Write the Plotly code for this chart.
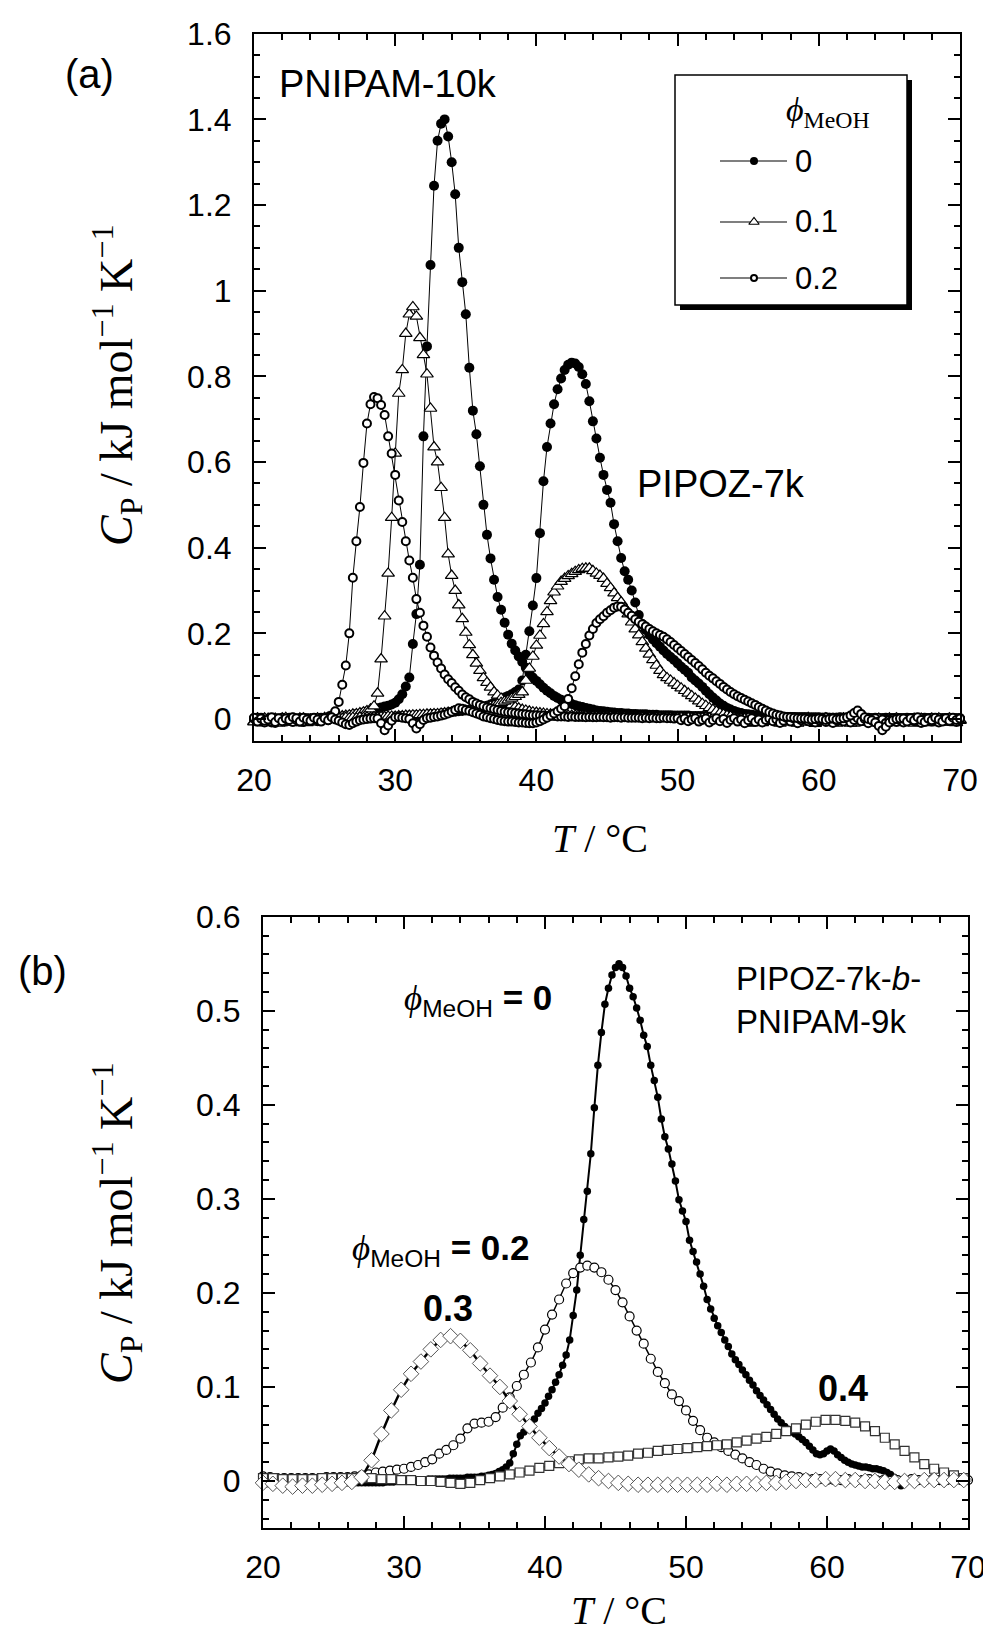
import numpy as np
import plotly.graph_objects as go

W, H = 991, 1631
OFF = 8  # the html body margin shifts the figure by 8 px; positions below are page px

# ------------------------------------------------------------------
# Panel (a): Cp / kJ mol^-1 K^-1,
# sampled every 0.25 degC starting at 20 degC (one row = 1 degC)
# ------------------------------------------------------------------
A_T0, A_DT = 20.0, 0.25

pnipam10k_phi0 = [
    -0.002, 0.003, -0.006, 0.001,
    -0.004, -0.008, 0.002, -0.003,
    0.001, -0.006, -0.002, 0.003,
    -0.005, 0.001, -0.007, -0.001,
    0.002, -0.003, 0.001, 0.003,
    0.002, 0.004, 0.003, 0.005,
    0.005, 0.006, 0.007, 0.008,
    0.010, 0.012, 0.013, 0.015,
    0.018, 0.020, 0.022, 0.025,
    0.027, 0.029, 0.031, 0.034,
    0.038, 0.046, 0.058, 0.076,
    0.097, 0.175, 0.245, 0.360,
    0.660, 0.870, 1.060, 1.245,
    1.350, 1.390, 1.400, 1.360,
    1.300, 1.225, 1.100, 1.020,
    0.945, 0.820, 0.720, 0.665,
    0.590, 0.500, 0.430, 0.375,
    0.325, 0.285, 0.255, 0.225,
    0.197, 0.176, 0.160, 0.146,
    0.133, 0.120, 0.108, 0.097,
    0.089, 0.081, 0.073, 0.066,
    0.060, 0.054, 0.049, 0.045,
    0.041, 0.038, 0.035, 0.032,
    0.030, 0.028, 0.026, 0.024,
    0.022, 0.020, 0.019, 0.018,
    0.017, 0.016, 0.015, 0.014,
    0.014, 0.013, 0.013, 0.012,
    0.012, 0.011, 0.011, 0.011,
    0.010, 0.010, 0.010, 0.009,
    0.009, 0.009, 0.009, 0.008,
    0.008, 0.008, 0.008, 0.008,
    0.007, 0.007, 0.007, 0.007,
    0.007, 0.007, 0.006, 0.006,
    0.006, 0.006, 0.006, 0.006,
    0.006, 0.005, 0.005, 0.005,
    0.005, 0.005, 0.005, 0.005,
    0.005, 0.005, 0.004, 0.004,
    0.004, 0.004, 0.004, 0.004,
    0.004, 0.004, 0.004, 0.004,
    0.004, 0.003, 0.003, 0.003,
    0.003, 0.003, 0.003, 0.003,
    0.003, 0.003, 0.003, 0.003,
    0.003, 0.003, 0.003, 0.003,
    0.003, 0.003, 0.003, 0.002,
    0.002, 0.002, 0.002, 0.002,
    0.002, 0.002, 0.002, 0.002,
    0.002, 0.002, 0.002, 0.002,
    0.002, 0.002, 0.002, 0.002,
    0.002, 0.002, 0.002, 0.002,
    0.002, 0.002, 0.002, 0.002,
    0.002,
]

pnipam10k_phi01 = [
    -0.006, 0.002, -0.009, -0.002,
    0.001, -0.007, -0.003, -0.010,
    -0.004, 0.003, -0.008, -0.001,
    -0.009, -0.003, 0.002, -0.006,
    -0.002, -0.007, 0.001, -0.003,
    0.003, 0.004, 0.004, 0.005,
    0.006, 0.007, 0.008, 0.009,
    0.011, 0.012, 0.014, 0.016,
    0.019, 0.023, 0.030, 0.060,
    0.140, 0.240, 0.340, 0.470,
    0.620, 0.760, 0.815, 0.900,
    0.945, 0.962, 0.940, 0.890,
    0.850, 0.805, 0.725, 0.635,
    0.600, 0.540, 0.470, 0.385,
    0.335, 0.300, 0.266, 0.234,
    0.202, 0.173, 0.150, 0.130,
    0.113, 0.096, 0.085, 0.074,
    0.063, 0.055, 0.048, 0.041,
    0.036, 0.032, 0.028, 0.025,
    0.022, 0.020, 0.018, 0.016,
    0.015, 0.014, 0.013, 0.012,
    0.011, 0.010, 0.010, 0.009,
    0.009, 0.008, 0.008, 0.008,
    0.007, 0.007, 0.007, 0.006,
    0.006, 0.006, 0.006, 0.005,
    0.005, 0.005, 0.004, 0.005,
    0.004, 0.005, 0.004, 0.004,
    0.004, 0.003, 0.004, 0.004,
    0.003, 0.004, 0.003, 0.003,
    0.004, 0.003, 0.003, 0.002,
    0.003, 0.003, 0.002, 0.003,
    0.002, 0.003, 0.002, 0.002,
    0.003, 0.002, 0.002, 0.001,
    0.002, 0.002, 0.001, 0.002,
    0.001, 0.002, 0.001, 0.001,
    0.002, -0.003, -0.007, -0.002,
    -0.009, -0.004, 0.001, -0.006,
    -0.002, -0.010, -0.005, 0.002,
    -0.007, -0.003, -0.009, -0.001,
    -0.005, 0.003, -0.008, -0.011,
    -0.003, -0.006, 0.001, -0.008,
    -0.001, -0.010, -0.004, 0.002,
    -0.007, -0.002, -0.010, -0.004,
    0.001, -0.006, -0.008, -0.002,
    -0.005, -0.010, -0.002, -0.007,
    0.002, -0.005, -0.009, -0.003,
    -0.008, -0.001, -0.006, -0.010,
    -0.004, 0.001, -0.007, -0.002,
    -0.009, -0.004, 0.002, -0.008,
    -0.003, -0.008, -0.001, -0.005,
    -0.004,
]

pnipam10k_phi02 = [
    0.001, -0.005, 0.003, -0.008,
    -0.003, 0.002, -0.009, -0.002,
    0.003, -0.004, -0.001, -0.007,
    -0.002, 0.002, -0.006, 0.001,
    -0.004, 0.001, -0.002, 0.002,
    0.002, 0.004, 0.008, 0.018,
    0.040, 0.080, 0.125, 0.200,
    0.330, 0.415, 0.495, 0.598,
    0.690, 0.735, 0.752, 0.749,
    0.733, 0.710, 0.660, 0.620,
    0.570, 0.510, 0.460, 0.415,
    0.370, 0.330, 0.280, 0.248,
    0.218, 0.192, 0.167, 0.148,
    0.132, 0.118, 0.104, 0.093,
    0.084, 0.074, 0.066, 0.057,
    0.051, 0.046, 0.040, 0.036,
    0.033, 0.030, 0.027, 0.025,
    0.023, 0.021, 0.019, 0.017,
    0.016, 0.015, 0.014, 0.013,
    0.012, 0.011, 0.010, 0.009,
    0.009, 0.008, 0.008, 0.007,
    0.007, 0.007, 0.006, 0.006,
    0.006, 0.005, 0.006, 0.005,
    0.005, 0.005, 0.004, 0.005,
    0.004, 0.004, 0.005, 0.004,
    0.004, 0.003, 0.004, 0.004,
    0.003, 0.004, 0.003, 0.003,
    0.003, 0.003, 0.002, 0.003,
    0.002, 0.003, 0.002, 0.002,
    0.003, 0.002, 0.002, 0.001,
    0.002, -0.003, 0.001, -0.005,
    -0.001, 0.002, -0.006, -0.002,
    0.001, -0.008, -0.003, 0.002,
    -0.005, 0.000, -0.009, -0.002,
    0.002, -0.006, -0.001, -0.010,
    -0.003, 0.002, -0.007, -0.001,
    -0.008, -0.002, 0.001, -0.005,
    -0.001, -0.009, -0.004, 0.002,
    -0.006, 0.001, -0.010, -0.003,
    0.002, -0.005, -0.002, -0.008,
    -0.003, 0.002, -0.007, 0.000,
    -0.009, -0.003, 0.001, -0.006,
    0.001, -0.008, -0.002, 0.002,
    -0.005, 0.000, -0.010, -0.003,
    0.002, -0.006, -0.001, -0.009,
    -0.002, 0.001, -0.007, -0.003,
    -0.008, -0.002, 0.002, -0.005,
    0.000, -0.009, -0.003, 0.001,
    -0.006, 0.002, -0.008, -0.002,
    0.001, -0.005, -0.001, -0.007,
    -0.003,
]

pipoz7k_phi0 = [
    0.002, -0.004, 0.001, -0.006,
    -0.003, 0.002, -0.007, 0.001,
    -0.005, -0.001, 0.003, -0.004,
    0.001, -0.006, -0.002, 0.002,
    -0.003, 0.002, -0.005, -0.001,
    0.001, -0.003, 0.002, 0.001,
    0.002, 0.001, 0.002, 0.002,
    0.002, 0.003, 0.002, 0.003,
    0.003, 0.003, 0.004, 0.004,
    0.004, 0.005, 0.005, 0.005,
    0.006, 0.006, 0.007, 0.007,
    0.008, 0.008, 0.009, 0.009,
    0.010, 0.010, 0.011, 0.012,
    0.012, 0.013, 0.014, 0.015,
    0.016, 0.017, 0.018, 0.019,
    0.020, 0.021, 0.022, 0.024,
    0.025, 0.028, 0.031, 0.034,
    0.038, 0.042, 0.046, 0.050,
    0.054, 0.058, 0.063, 0.069,
    0.090, 0.150, 0.205, 0.265,
    0.329, 0.434, 0.555, 0.635,
    0.690, 0.735, 0.770, 0.795,
    0.815, 0.827, 0.832, 0.830,
    0.822, 0.805, 0.782, 0.742,
    0.695, 0.655, 0.610, 0.570,
    0.535, 0.505, 0.455, 0.415,
    0.376, 0.345, 0.325, 0.300,
    0.272, 0.243, 0.222, 0.208,
    0.196, 0.186, 0.177, 0.169,
    0.160, 0.152, 0.145, 0.138,
    0.130, 0.122, 0.115, 0.108,
    0.097, 0.090, 0.083, 0.075,
    0.066, 0.058, 0.050, 0.043,
    0.036, 0.031, 0.026, 0.022,
    0.019, 0.016, 0.014, 0.012,
    0.011, 0.010, 0.009, 0.008,
    0.008, 0.007, 0.007, 0.006,
    0.006, 0.006, 0.005, 0.005,
    0.005, 0.005, 0.004, 0.004,
    0.004, 0.004, 0.004, 0.004,
    0.004, 0.003, 0.004, 0.003,
    0.003, 0.003, 0.004, 0.003,
    0.003, 0.002, 0.003, 0.003,
    0.002, 0.003, 0.002, 0.002,
    0.003, 0.002, 0.002, 0.003,
    0.002, 0.002, 0.003, 0.002,
    0.002, 0.003, 0.002, 0.002,
    0.002, 0.002, 0.003, 0.002,
    0.003, 0.002, 0.002, 0.002,
    0.002, 0.003, 0.002, 0.002,
    0.002,
]

pipoz7k_phi01 = [
    -0.007, 0.001, -0.004, 0.002,
    -0.002, -0.009, 0.001, -0.005,
    0.002, -0.003, -0.008, -0.001,
    -0.006, 0.002, -0.002, -0.009,
    -0.001, -0.005, 0.002, -0.003,
    0.001, 0.002, 0.001, 0.003,
    0.002, 0.001, 0.003, 0.002,
    0.003, 0.002, 0.004, 0.003,
    0.004, 0.003, 0.005, 0.004,
    0.005, 0.005, 0.006, 0.006,
    0.006, 0.007, 0.007, 0.008,
    0.008, 0.009, 0.009, 0.010,
    0.010, 0.011, 0.011, 0.012,
    0.012, 0.013, 0.014, 0.015,
    0.016, 0.017, 0.018, 0.019,
    0.020, 0.021, 0.022, 0.023,
    0.024, 0.026, 0.028, 0.030,
    0.032, 0.035, 0.038, 0.041,
    0.044, 0.048, 0.052, 0.057,
    0.063, 0.090, 0.118, 0.146,
    0.172, 0.195, 0.222, 0.250,
    0.276, 0.296, 0.310, 0.321,
    0.328, 0.334, 0.339, 0.344,
    0.348, 0.351, 0.352, 0.352,
    0.346, 0.340, 0.335, 0.328,
    0.316, 0.306, 0.294, 0.283,
    0.273, 0.260, 0.245, 0.226,
    0.210, 0.196, 0.180, 0.165,
    0.151, 0.138, 0.125, 0.113,
    0.103, 0.096, 0.090, 0.084,
    0.078, 0.072, 0.066, 0.060,
    0.054, 0.048, 0.042, 0.036,
    0.031, 0.026, 0.022, 0.018,
    0.014, 0.011, 0.008, 0.006,
    0.003, 0.000, -0.004, -0.008,
    -0.010, -0.009, -0.007, -0.005,
    -0.003, -0.001, 0.000, 0.001,
    -0.002, -0.008, 0.001, -0.004,
    0.002, -0.005, -0.010, -0.002,
    -0.007, 0.001, -0.003, -0.009,
    -0.001, -0.006, 0.002, -0.004,
    -0.009, -0.002, -0.006, 0.001,
    -0.004, -0.010, -0.001, -0.007,
    0.002, -0.003, -0.008, -0.002,
    -0.006, 0.001, -0.004, -0.010,
    -0.001, -0.007, 0.002, -0.003,
    -0.008, -0.002, -0.005, 0.001,
    -0.003, -0.009, -0.001, -0.006,
    0.001, -0.004, -0.008, -0.002,
    -0.006, 0.002, -0.003, -0.009,
    -0.002,
]

pipoz7k_phi02 = [
    0.003, -0.006, 0.001, -0.004,
    -0.001, 0.004, -0.007, 0.002,
    -0.005, 0.001, -0.002, 0.004,
    0.002, -0.006, 0.003, -0.001,
    -0.004, 0.003, -0.001, -0.006,
    0.002, -0.003, 0.004, -0.001,
    -0.004, -0.008, -0.012, -0.014,
    -0.010, -0.006, -0.003, -0.001,
    0.000, 0.001, 0.002, 0.001,
    -0.010, -0.026, -0.015, -0.004,
    0.004, 0.005, 0.003, 0.002,
    0.000, -0.010, -0.022, -0.012,
    -0.002, 0.002, 0.003, 0.005,
    0.006, 0.008, 0.010, 0.013,
    0.017, 0.021, 0.025, 0.024,
    0.021, 0.019, 0.016, 0.013,
    0.010, 0.006, 0.004, 0.002,
    0.000, -0.002, -0.004, -0.005,
    -0.006, -0.006, -0.007, -0.008,
    -0.008, -0.009, -0.010, -0.010,
    -0.008, -0.005, -0.001, 0.003,
    0.008, 0.013, 0.018, 0.024,
    0.030, 0.047, 0.072, 0.100,
    0.128, 0.155, 0.175, 0.195,
    0.210, 0.224, 0.233, 0.240,
    0.248, 0.254, 0.260, 0.263,
    0.262, 0.256, 0.248, 0.241,
    0.233, 0.227, 0.221, 0.216,
    0.210, 0.205, 0.200, 0.196,
    0.192, 0.186, 0.180, 0.173,
    0.166, 0.159, 0.152, 0.145,
    0.138, 0.131, 0.124, 0.116,
    0.108, 0.101, 0.095, 0.088,
    0.082, 0.075, 0.069, 0.063,
    0.058, 0.053, 0.049, 0.045,
    0.041, 0.037, 0.033, 0.028,
    0.024, 0.020, 0.016, 0.013,
    0.010, 0.008, 0.006, 0.005,
    0.004, 0.003, 0.002, 0.001,
    0.001, 0.000, -0.001, 0.000,
    0.001, 0.000, -0.002, 0.000,
    0.001, -0.001, 0.000, 0.002,
    0.004, 0.008, 0.014, 0.020,
    0.012, 0.004, 0.000, -0.003,
    -0.008, -0.016, -0.026, -0.018,
    -0.008, -0.003, 0.000, 0.001,
    0.001, -0.006, 0.002, -0.003,
    0.004, -0.002, -0.007, 0.001,
    -0.003, 0.003, -0.001, -0.006,
    0.002, -0.004, 0.003, -0.002,
    0.001,
]

# ------------------------------------------------------------------
# Panel (b): PIPOZ-7k-b-PNIPAM-9k at several methanol fractions
# ------------------------------------------------------------------
B0_T0, B0_DT = 20.0, 0.25      # phi = 0   (one row = 1 degC)
block_phi0 = [
    -0.003, -0.003, -0.003, -0.003,
    -0.003, -0.003, -0.003, -0.003,
    -0.003, -0.003, -0.003, -0.003,
    -0.003, -0.003, -0.003, -0.003,
    -0.003, -0.003, -0.003, -0.003,
    -0.003, -0.003, -0.003, -0.002,
    -0.002, -0.002, -0.002, -0.002,
    -0.002, -0.002, -0.002, -0.002,
    -0.002, -0.002, -0.002, -0.001,
    -0.001, -0.001, 0.000, 0.000,
    0.000, 0.000, 0.001, 0.001,
    0.001, 0.001, 0.001, 0.002,
    0.002, 0.002, 0.002, 0.002,
    0.002, 0.003, 0.003, 0.003,
    0.003, 0.003, 0.004, 0.004,
    0.004, 0.004, 0.005, 0.005,
    0.006, 0.007, 0.008, 0.010,
    0.012, 0.015, 0.019, 0.029,
    0.039, 0.048, 0.052, 0.055,
    0.061, 0.066, 0.072, 0.077,
    0.083, 0.090, 0.097, 0.105,
    0.113, 0.123, 0.134, 0.150,
    0.176, 0.203, 0.240, 0.278,
    0.308, 0.348, 0.397, 0.442,
    0.477, 0.507, 0.524, 0.538,
    0.546, 0.550, 0.546, 0.537,
    0.524, 0.515, 0.503, 0.490,
    0.474, 0.462, 0.442, 0.426,
    0.408, 0.385, 0.366, 0.353,
    0.337, 0.319, 0.299, 0.287,
    0.276, 0.256, 0.244, 0.233,
    0.220, 0.207, 0.193, 0.183,
    0.173, 0.165, 0.158, 0.150,
    0.143, 0.135, 0.129, 0.124,
    0.118, 0.113, 0.107, 0.102,
    0.096, 0.091, 0.086, 0.081,
    0.076, 0.071, 0.066, 0.062,
    0.058, 0.055, 0.052, 0.050,
    0.047, 0.044, 0.041, 0.037,
    0.033, 0.029, 0.028, 0.029,
    0.032, 0.034, 0.032, 0.028,
    0.025, 0.022, 0.020, 0.018,
    0.017, 0.016, 0.015, 0.015,
    0.014, 0.013, 0.013, 0.012,
    0.011, 0.009, 0.007, 0.004,
    0.000, -0.005,
]

B2_T0, B2_DT = 20.0, 0.5       # phi = 0.2 (one row = 1 degC)
block_phi02 = [
    0.005, 0.004,  0.003, 0.003,  0.003, 0.003,  0.003, 0.003,
    0.003, 0.004,  0.004, 0.004,  0.004, 0.005,  0.006, 0.007,
    0.009, 0.010,  0.011, 0.012,  0.013, 0.015,  0.017, 0.020,
    0.023, 0.029,  0.033, 0.038,  0.045, 0.056,  0.061, 0.062,
    0.063, 0.068,  0.078, 0.089,  0.101, 0.113,  0.126, 0.142,
    0.161, 0.177,  0.193, 0.210,  0.221, 0.227,  0.229, 0.227,
    0.222, 0.214,  0.203, 0.190,  0.175, 0.160,  0.146, 0.130,
    0.116, 0.104,  0.092, 0.085,  0.075, 0.064,  0.054, 0.046,
    0.041, 0.036,  0.032, 0.028,  0.024, 0.020,  0.017, 0.013,
    0.010, 0.008,  0.006, 0.005,  0.004, 0.003,  0.002, 0.002,
    0.001, 0.001,  0.001, 0.002,  0.001, 0.001,  0.002, 0.001,
    0.001, 0.000,  0.001, 0.001,  0.002, 0.001,  0.001, 0.002,
    0.001, 0.001,  0.002, 0.001,
    0.001,
]

B3_T0, B3_DT = 20.0, 0.7       # phi = 0.3
block_phi03 = [
    -0.002, -0.003, -0.005, -0.006, -0.005, -0.005, -0.004, -0.003,
    -0.002, -0.001, 0.004, 0.022, 0.050, 0.075, 0.097, 0.114,
    0.127, 0.140, 0.150, 0.154, 0.149, 0.139, 0.125, 0.112,
    0.100, 0.085, 0.071, 0.058, 0.046, 0.035, 0.026, 0.018,
    0.012, 0.007, 0.003, 0.000, -0.002, -0.003, -0.004, -0.004,
    -0.004, -0.004, -0.004, -0.004, -0.004, -0.004, -0.003, -0.004,
    -0.003, -0.003, -0.003, -0.002, -0.002, -0.001, 0.000, 0.001,
    0.001, 0.002, 0.002, 0.001, 0.001, 0.000, 0.000, -0.001,
    -0.001, 0.000, 0.000, 0.001, 0.001, 0.001, 0.001, 0.001,
]

B4_T0, B4_DT = 20.0, 0.7       # phi = 0.4
block_phi04 = [
    0.003, 0.003, 0.002, 0.002, 0.002, 0.002, 0.003, 0.003,
    0.003, 0.003, 0.003, 0.003, 0.002, 0.002, 0.001, 0.001,
    0.000, 0.000, -0.001, -0.002, -0.003, -0.002, 0.001, 0.003,
    0.005, 0.007, 0.009, 0.011, 0.014, 0.016, 0.019, 0.021,
    0.023, 0.024, 0.024, 0.025, 0.026, 0.027, 0.029, 0.030,
    0.032, 0.033, 0.034, 0.035, 0.036, 0.037, 0.038, 0.039,
    0.041, 0.043, 0.045, 0.047, 0.050, 0.053, 0.056, 0.060,
    0.063, 0.065, 0.065, 0.064, 0.062, 0.058, 0.053, 0.046,
    0.039, 0.032, 0.025, 0.018, 0.013, 0.009, 0.006, 0.003,
]

LEGEND_TITLE = "MeOH"
LEGEND_LABELS = ["0", "0.1", "0.2"]


def temps(t0, dt, values):
    return t0 + dt * np.arange(len(values))


BLACK = "black"
FILLED_A = dict(symbol="circle", size=10, color=BLACK, line=dict(width=0))
TRI_A = dict(symbol="triangle-up", size=11, color="white", line=dict(width=1.2, color=BLACK))
CIRC_A = dict(symbol="circle", size=8, color="white", line=dict(width=2, color=BLACK))

panel_a = [
    (pnipam10k_phi0, FILLED_A),
    (pipoz7k_phi0, FILLED_A),
    (pnipam10k_phi01, TRI_A),
    (pipoz7k_phi01, TRI_A),
    (pnipam10k_phi02, CIRC_A),
    (pipoz7k_phi02, CIRC_A),
]

panel_b = [
    (block_phi0, B0_T0, B0_DT, dict(symbol="circle", size=7.5, color=BLACK, line=dict(width=0)), 2.0),
    (block_phi02, B2_T0, B2_DT, dict(symbol="circle", size=9, color="white", line=dict(width=1.2, color=BLACK)), 1.5),
    (block_phi04, B4_T0, B4_DT, dict(symbol="square", size=9, color="white", line=dict(width=1.2, color="#333333")), 1.5),
    (block_phi03, B3_T0, B3_DT, dict(symbol="diamond", size=12, color="white", line=dict(width=1.0, color="#555555")), 2.5),
]

fig = go.Figure()

for vals, mk in panel_a:
    fig.add_trace(go.Scatter(
        x=temps(A_T0, A_DT, vals), y=vals, mode="lines+markers",
        line=dict(color=BLACK, width=1), marker=mk, cliponaxis=False,
        xaxis="x", yaxis="y", showlegend=False, hoverinfo="skip"))

for vals, t0, dt, mk, lw in panel_b:
    fig.add_trace(go.Scatter(
        x=temps(t0, dt, vals), y=vals, mode="lines+markers",
        line=dict(color=BLACK, width=lw), marker=mk, cliponaxis=False,
        xaxis="x2", yaxis="y2", showlegend=False, hoverinfo="skip"))

# ---------------- hand-made legend for panel (a) -----------------
LEG_BOX = (675, 75, 907, 305)     # page px: left, top, right, bottom
LEG_SHADOW = 5
LEG_LINE = (720, 787)
LEG_MARK_X = 754
LEG_TEXT_X = 793
LEG_ROWS = [161, 222, 278]
legend_marks = [FILLED_A, TRI_A, CIRC_A]
legend_sizes = [8, 9, 6]

for label, mk, sz, ry in zip(LEGEND_LABELS, legend_marks, legend_sizes, LEG_ROWS):
    fig.add_trace(go.Scatter(
        x=list(LEG_LINE), y=[ry, ry], mode="lines", line=dict(color=BLACK, width=1.2),
        xaxis="x3", yaxis="y3", showlegend=False, hoverinfo="skip", cliponaxis=False))
    m = dict(mk)
    m["size"] = sz
    fig.add_trace(go.Scatter(
        x=[LEG_MARK_X], y=[ry], mode="markers", marker=m,
        xaxis="x3", yaxis="y3", showlegend=False, hoverinfo="skip", cliponaxis=False))


def px(x):
    return (x - OFF) / W


def py(y):
    return 1 - (y - OFF) / H


SANS = "Liberation Sans, Arial, sans-serif"
SERIF = "Liberation Serif, Times New Roman, serif"

shapes = [
    dict(type="rect", xref="paper", yref="paper", layer="below",
         x0=px(LEG_BOX[0] + LEG_SHADOW), x1=px(LEG_BOX[2] + LEG_SHADOW),
         y0=py(LEG_BOX[3] + LEG_SHADOW), y1=py(LEG_BOX[1] + LEG_SHADOW),
         fillcolor=BLACK, line=dict(width=0)),
    dict(type="rect", xref="paper", yref="paper", layer="below",
         x0=px(LEG_BOX[0]), x1=px(LEG_BOX[2]), y0=py(LEG_BOX[3]), y1=py(LEG_BOX[1]),
         fillcolor="white", line=dict(color=BLACK, width=1.5)),
]

PHI = "<span style='font-family:Liberation Serif, DejaVu Serif, serif'><i>\u03d5</i></span>"


def ann(text, x, y, size, family=SANS, xanchor="center", yanchor="middle", angle=0, align="center"):
    return dict(text=text, x=px(x), y=py(y), xref="paper", yref="paper",
                xanchor=xanchor, yanchor=yanchor, showarrow=False, textangle=angle,
                align=align, font=dict(family=family, size=size, color=BLACK))


YTITLE = "<i>C</i><sub>P</sub> / kJ mol<sup>\u22121</sup> K<sup>\u22121</sup>"
XTITLE = "<i>T</i> / \u00b0C"

annotations = [
    ann("(a)", 89, 74, 40),
    ann("(b)", 42, 971, 40),
    ann("PNIPAM-10k", 277, 84, 38, xanchor="left"),
    ann("PIPOZ-7k", 635, 484, 38, xanchor="left"),
    ann("PIPOZ-7k-<i>b</i>-<br>PNIPAM-9k", 734, 1000, 33, xanchor="left", align="left"),
    ann(PHI + "<sub>MeOH</sub> <b>= 0</b>", 402, 1000, 35, xanchor="left"),
    ann(PHI + "<sub>MeOH</sub> <b>= 0.2</b>", 350, 1250, 35, xanchor="left"),
    ann("<b>0.3</b>", 448, 1308, 36),
    ann("<b>0.4</b>", 843, 1388, 36),
    ann(XTITLE, 600, 838, 40, family=SERIF),
    ann(XTITLE, 619, 1610, 40, family=SERIF),
    ann(YTITLE, 116, 385, 46, family=SERIF, angle=-90),
    ann(YTITLE, 116, 1223, 46, family=SERIF, angle=-90),
    ann("<i>\u03d5</i><sub>" + LEGEND_TITLE + "</sub>", 828, 112, 34, family=SERIF),
]
for label, ry in zip(LEGEND_LABELS, LEG_ROWS):
    annotations.append(ann(label, LEG_TEXT_X, ry, 31, xanchor="left"))

tickfont = dict(family=SANS, size=32, color=BLACK)


def axis(x0, x1, rng, dtick, mdtick, tick0, anchor, standoff, vertical):
    if vertical:
        domain = [py(x1), py(x0)]
    else:
        domain = [px(x0), px(x1)]
    return dict(domain=domain, range=rng, dtick=dtick, tick0=tick0, anchor=anchor,
                showline=True, linecolor=BLACK, linewidth=2, mirror="allticks",
                ticks="inside", ticklen=12, tickwidth=1.5, tickcolor=BLACK,
                showgrid=False, zeroline=False, tickfont=tickfont,
                ticklabelstandoff=standoff, automargin=False,
                minor=dict(ticks="inside", ticklen=6, tickwidth=1.5, tickcolor=BLACK,
                           dtick=mdtick, tick0=tick0, showgrid=False))


fig.update_layout(
    width=W, height=H, margin=dict(l=0, r=0, t=0, b=0),
    paper_bgcolor="white", plot_bgcolor="rgba(0,0,0,0)",
    showlegend=False,
    xaxis=axis(254, 960, [20, 70], 10, 2, 20, "y", 10, False),
    yaxis=axis(33.5, 741, [-0.0513, 1.6005], 0.2, 0.05, 0, "x", 14, True),
    xaxis2=axis(263, 968, [20, 70], 10, 2, 20, "y2", 10, False),
    yaxis2=axis(916.5, 1528, [-0.05, 0.6003], 0.1, 0.02, 0, "x2", 14, True),
    xaxis3=dict(domain=[0, 1], range=[OFF, W + OFF], visible=False, anchor="y3", fixedrange=True),
    yaxis3=dict(domain=[0, 1], range=[H + OFF, OFF], visible=False, anchor="x3", fixedrange=True),
    shapes=shapes,
    annotations=annotations,
)

fig.write_html("out.html")
